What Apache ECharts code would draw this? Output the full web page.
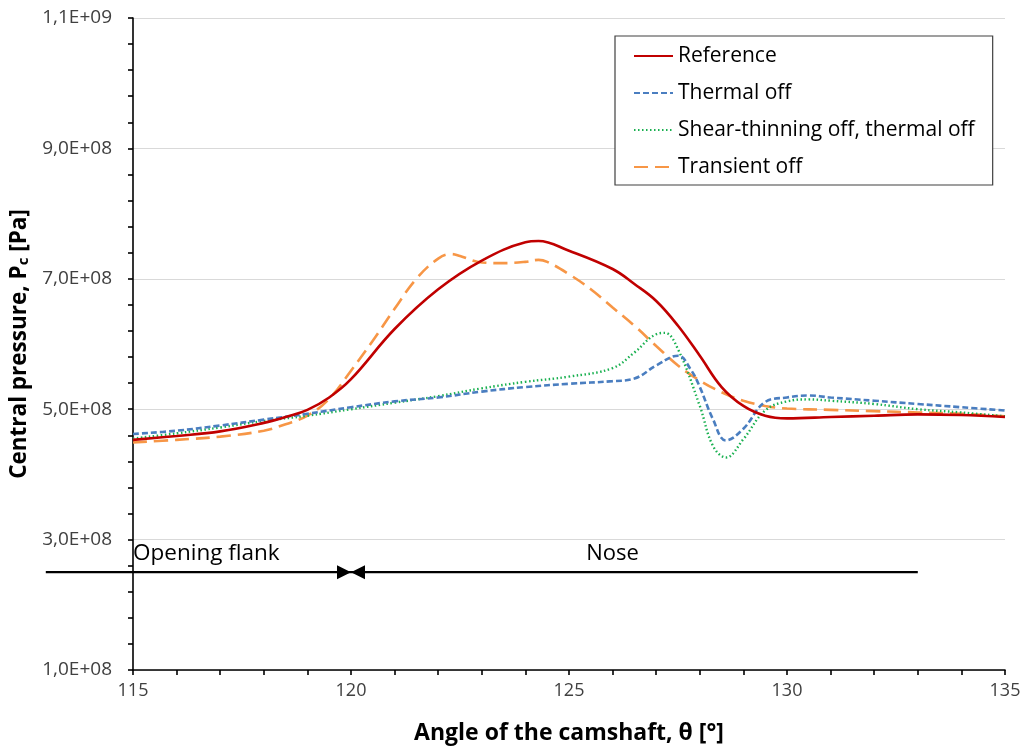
<!DOCTYPE html>
<html><head><meta charset="utf-8">
<script src="https://cdn.jsdelivr.net/npm/echarts@6/dist/echarts.min.js"></script>
<style>html,body{margin:0;padding:0;background:#fff}#c{width:1026px;height:751px}</style>
</head><body><div id="c"></div>
<script>
// ---- data ----
const refX = [115,116,117,118,118.5,119,119.5,120,121,122,123,124,124.3,125,126,126.5,127,127.5,128,128.5,129,129.5,130,131,132,133,134,135];
const refY = [4.53e8,4.59e8,4.66e8,4.79e8,4.88e8,4.99e8,5.18e8,5.46e8,6.23e8,6.84e8,7.28e8,7.56e8,7.58e8,7.43e8,7.15e8,6.92e8,6.66e8,6.28e8,5.82e8,5.34e8,5.05e8,4.90e8,4.86e8,4.88e8,4.90e8,4.92e8,4.91e8,4.88e8];

const thermX = [115,116,117,118,119,120,121,122,123,124,125,126,126.5,127,127.5,127.8,128,128.3,128.6,129,129.5,130,130.5,131,132,133,134,135];
const thermY = [4.62e8,4.67e8,4.75e8,4.84e8,4.93e8,5.03e8,5.12e8,5.18e8,5.27e8,5.34e8,5.39e8,5.43e8,5.47e8,5.67e8,5.82e8,5.60e8,5.34e8,4.85e8,4.52e8,4.70e8,5.11e8,5.18e8,5.21e8,5.18e8,5.13e8,5.08e8,5.03e8,4.98e8];

const shearX = [115,116,117,118,119,120,121,122,123,124,125,126,126.5,127,127.2,127.5,128,128.3,128.6,129,129.5,130,130.5,131,132,133,134,135];
const shearY = [4.55e8,4.63e8,4.72e8,4.82e8,4.90e8,5.00e8,5.10e8,5.20e8,5.32e8,5.42e8,5.50e8,5.63e8,5.87e8,6.15e8,6.17e8,5.92e8,5.05e8,4.44e8,4.26e8,4.54e8,4.98e8,5.12e8,5.15e8,5.13e8,5.08e8,5.00e8,4.95e8,4.89e8];

const transX = [115,116,117,118,118.5,119,119.5,120,120.5,121,121.5,122,122.3,122.5,123,123.5,124,124.3,124.5,125,125.5,126,126.5,127,127.5,128,128.5,129,129.5,130,131,132,133,134,135];
const transY = [4.49e8,4.53e8,4.58e8,4.67e8,4.77e8,4.90e8,5.16e8,5.59e8,6.05e8,6.54e8,7.00e8,7.31e8,7.38e8,7.35e8,7.25e8,7.24e8,7.26e8,7.29e8,7.26e8,7.07e8,6.84e8,6.56e8,6.28e8,5.97e8,5.67e8,5.44e8,5.26e8,5.13e8,5.05e8,5.01e8,4.99e8,4.97e8,4.95e8,4.93e8,4.89e8];

const seriesNames = ['Reference','Thermal off','Shear-thinning off, thermal off','Transient off'];

// phase annotation (angles and pressure level)
const phaseArrowX = [113, 133];
const phaseArrowY = 2.5e8;
const phaseBoundary = 120;
const phaseLabels = ['Opening flank','Nose'];
const phaseLabelX = [115, 126];
const phaseLabelY = 2.78e8;

const xTicks = {min:115, max:135, interval:5};
const yTicks = {min:1e8, max:1.1e9, interval:2e8};

// ---- chart ----
const zip = (xs, ys) => xs.map((x,i)=>[x, ys[i]]);
function sci(v){
  if (v === 0) return '0';
  const e = Math.floor(Math.log10(v) + 1e-9);
  const m = (v/Math.pow(10,e)).toFixed(1).replace('.', ',');
  return m + 'E+' + String(e).padStart(2,'0');
}
const FONT = 'Open Sans';
const colors = ['#C00000','#4A7EC0','#19B050','#F79646'];
const styles = [
  {width:2.6, type:'solid'},
  {width:2.6, type:[6,3]},
  {width:2.4, type:[1.5,2.5]},
  {width:2.6, type:[14,7]}
];
const dataSets = [zip(refX,refY), zip(thermX,thermY), zip(shearX,shearY), zip(transX,transY)];

const chart = echarts.init(document.getElementById('c'), null, {renderer:'canvas'});
const series = seriesNames.map((n,i)=>({
  name:n, type:'line', data:dataSets[i], smooth:0.4, showSymbol:false, symbol:'none',
  lineStyle:{color:colors[i], width:styles[i].width, type:styles[i].type},
  itemStyle:{color:colors[i]}, z: 5 - i
}));
series.push({
  name:'phaseLabels', type:'scatter', silent:true, symbolSize:0,
  itemStyle:{opacity:1, color:'#000'},
  data: phaseLabels.map((t,i)=>({value:[phaseLabelX[i], phaseLabelY], name:t,
    label:{show:true, position:'inside', formatter:t, align: i===0?'left':'center', verticalAlign:'middle',
      fontFamily:FONT, fontSize:i===0?22.5:22, color:'#000', opacity:1, textBorderWidth:0}}))
});

chart.setOption({
  animation:false,
  backgroundColor:'#fff',
  grid:{left:133, right:21, top:18, bottom:81, containLabel:false, outerBoundsMode:'none'},
  legend:{
    data:seriesNames, orient:'vertical', left:615, top:36,
    padding:[8,18,6,18], itemGap:13, itemWidth:39, itemHeight:14,
    borderColor:'#404040', borderWidth:1.2, backgroundColor:'#fff',
    itemStyle:{color:'rgba(0,0,0,0)', borderColor:'rgba(0,0,0,0)', borderWidth:0},
    textStyle:{fontFamily:FONT, fontSize:21, color:'#000', lineHeight:24}
  },
  xAxis:{
    type:'value', min:xTicks.min, max:xTicks.max, interval:xTicks.interval,
    name:'Angle of the camshaft, θ [°]', nameLocation:'middle', nameGap:52,
    nameTextStyle:{fontFamily:FONT, fontSize:23, fontWeight:'bold', color:'#000'},
    axisLine:{show:true, onZero:false, lineStyle:{color:'#000', width:1.6}},
    axisTick:{show:true, length:5, lineStyle:{color:'#000', width:1.6}},
    minorTick:{show:true, splitNumber:5, length:5, lineStyle:{color:'#000', width:1.6}},
    axisLabel:{fontFamily:FONT, fontSize:18, color:'#404040', margin:12},
    splitLine:{show:false}
  },
  yAxis:{
    type:'value', min:yTicks.min, max:yTicks.max, interval:yTicks.interval,
    name:'Central pressure, P{sub|c} [Pa]', nameLocation:'middle', nameGap:98, nameRotate:90,
    nameTextStyle:{fontFamily:FONT, fontSize:22.5, fontWeight:'bold', color:'#000',
      rich:{sub:{fontFamily:FONT, fontSize:15, fontWeight:'bold', color:'#000', verticalAlign:'bottom', padding:[8,0,0,0]}}},
    axisLine:{show:true, onZero:false, lineStyle:{color:'#000', width:1.6}},
    axisTick:{show:true, length:5, lineStyle:{color:'#000', width:1.6}},
    minorTick:{show:true, splitNumber:5, length:5, lineStyle:{color:'#000', width:1.6}},
    axisLabel:{fontFamily:FONT, fontSize:19, color:'#404040', margin:21, formatter:sci},
    splitLine:{show:true, lineStyle:{color:'#D9D9D9', width:1.2}}
  },
  series:series
});

// phase arrows, placed through the chart's own scales
const toPx = (x, y) => chart.convertToPixel({gridIndex:0}, [x, y]);
const pL = toPx(phaseArrowX[0], phaseArrowY);
const pR = toPx(phaseArrowX[1], phaseArrowY);
const pB = toPx(phaseBoundary, phaseArrowY);
const aw = 14, ah = 7;
chart.setOption({
  graphic:[
    {type:'line', shape:{x1:pL[0], y1:pL[1], x2:pR[0], y2:pR[1]}, style:{stroke:'#000', lineWidth:2.2}, z:10, silent:true},
    {type:'polygon', shape:{points:[[pB[0]-aw, pB[1]-ah],[pB[0], pB[1]],[pB[0]-aw, pB[1]+ah]]}, style:{fill:'#000'}, z:11, silent:true},
    {type:'polygon', shape:{points:[[pB[0]+aw, pB[1]-ah],[pB[0], pB[1]],[pB[0]+aw, pB[1]+ah]]}, style:{fill:'#000'}, z:11, silent:true}
  ]
});
</script></body></html>
